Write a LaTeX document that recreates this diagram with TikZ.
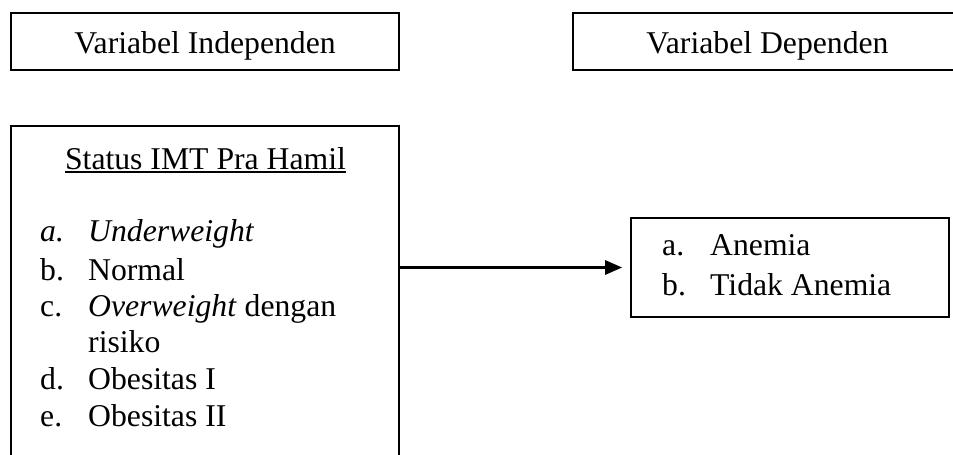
\documentclass[tikz,border=0pt]{standalone}
\usepackage{fontspec}
\setmainfont{Liberation Serif}
\usetikzlibrary{arrows.meta}
\begin{document}
\begin{tikzpicture}[x=1pt,y=-1pt,
  frame/.style={draw, line width=1.6pt, inner sep=0pt},
  txt/.style={inner sep=0pt, font=\fontsize{31.7}{36.8}\selectfont},
  link/.style={line width=2.7pt, -{Triangle[length=17pt,width=14pt]}, shorten >=8pt}]
\useasboundingbox (0,0) rectangle (953,455);
\clip (0,0) rectangle (953,455);

% frames
\node[frame, minimum width=388pt, minimum height=57pt] (indep) at (205,41.5) {};
\node[frame, minimum width=389pt, minimum height=57pt] (dep) at (767.5,41.5) {};
\node[frame, minimum width=388pt, minimum height=344pt] (imt) at (205,298) {};
\node[frame, minimum width=318pt, minimum height=99pt] (anemia) at (790,267.5) {};

% headings
\node[txt, anchor=base] (indeptxt) at (205,53) {Variabel Independen};
\node[txt, anchor=base] (deptxt) at (767.5,53) {Variabel Dependen};

% predictor box
\node[txt, anchor=base] (title) at (205.5,169) {Status IMT Pra Hamil};
\draw[line width=1.3pt] ([yshift=-3pt]title.base west) -- ([yshift=-3pt]title.base east);

\node[txt, anchor=base west] (la) at (40,241.7) {\itshape a.};
\node[txt, anchor=base west] (ia) at (88,241.7) {\itshape Underweight};
\node[txt, anchor=base west] (lb) at (40,280) {b.};
\node[txt, anchor=base west] (ib) at (88,280) {Normal};
\node[txt, anchor=base west] (lc) at (40,316.7) {c.};
\node[txt, anchor=base west] (ic) at (88,316.7) {\textit{Overweight} dengan};
\node[txt, anchor=base west] (ic2) at (88,352.5) {risiko};
\node[txt, anchor=base west] (ld) at (40,389.5) {d.};
\node[txt, anchor=base west] (id) at (88,389.5) {Obesitas I};
\node[txt, anchor=base west] (le) at (40,426.5) {e.};
\node[txt, anchor=base west] (ie) at (88,426.5) {Obesitas II};

% outcome box
\node[txt, anchor=base west] (oa) at (662,255) {a.};
\node[txt, anchor=base west] (oat) at (710,255) {Anemia};
\node[txt, anchor=base west] (ob) at (662,295) {b.};
\node[txt, anchor=base west] (obt) at (710,295) {Tidak Anemia};

% relationship arrow
\draw[link] (imt.east |- anemia.west) -- (anemia.west);
\end{tikzpicture}
\end{document}
